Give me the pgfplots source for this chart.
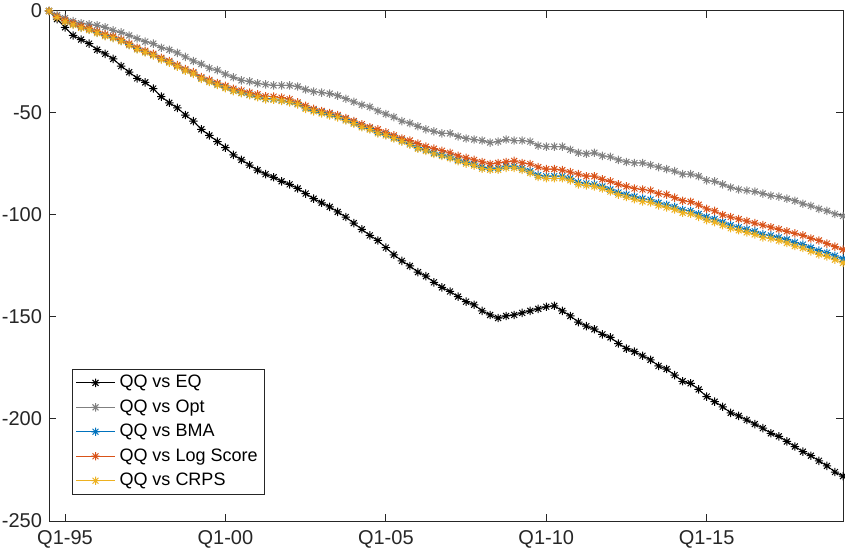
\documentclass[border=0pt]{standalone}
\usepackage{fontspec}
\setmainfont{Liberation Sans}
\usepackage{pgfplots}
\usepackage{pgfplotstable}
\pgfplotsset{compat=1.18}

\definecolor{axgray}{rgb}{0.15,0.15,0.15}
\definecolor{mgray}{rgb}{0.5,0.5,0.5}
\definecolor{mblue}{rgb}{0,0.447,0.741}
\definecolor{morange}{rgb}{0.85,0.325,0.098}
\definecolor{myellow}{rgb}{0.929,0.694,0.125}

% eight-armed asterisk marker
\pgfdeclareplotmark{mstar}{%
  \pgfpathmoveto{\pgfpoint{-\pgfplotmarksize}{0pt}}\pgfpathlineto{\pgfpoint{\pgfplotmarksize}{0pt}}%
  \pgfpathmoveto{\pgfpoint{0pt}{-\pgfplotmarksize}}\pgfpathlineto{\pgfpoint{0pt}{\pgfplotmarksize}}%
  \pgfpathmoveto{\pgfpoint{-0.7071\pgfplotmarksize}{-0.7071\pgfplotmarksize}}\pgfpathlineto{\pgfpoint{0.7071\pgfplotmarksize}{0.7071\pgfplotmarksize}}%
  \pgfpathmoveto{\pgfpoint{-0.7071\pgfplotmarksize}{0.7071\pgfplotmarksize}}\pgfpathlineto{\pgfpoint{0.7071\pgfplotmarksize}{-0.7071\pgfplotmarksize}}%
  \pgfusepathqstroke}

% t = quarters since Q1-1995
\pgfplotstableread{
t eq opt bma log crps
-2 0 0 0 0 0
-1 -4 -2 -3 -2.8 -3.2
0 -8 -3.5 -5 -4.6 -5.3
1 -12 -5 -6.5 -6 -6.8
2 -14 -6 -8 -7.5 -8.3
3 -16 -6.5 -9 -8.5 -9.3
4 -19 -7 -10.5 -10 -10.8
5 -21 -8 -12 -11.5 -12.3
6 -23.5 -9.5 -13 -12.5 -13.3
7 -27 -10.5 -14.5 -14 -14.8
8 -30 -12 -16.5 -16 -16.8
9 -33 -13.5 -18.5 -18 -18.8
10 -35 -15 -20 -19.5 -20.3
11 -38 -16 -21.5 -21 -21.8
12 -42 -18 -23.5 -23 -23.8
13 -45 -19 -25 -24.5 -25.3
14 -47.5 -20.5 -27 -26.5 -27.3
15 -51 -22.5 -29 -28.5 -29.3
16 -54 -24.5 -30.5 -30 -30.8
17 -58 -26 -33 -32.4 -33.3
18 -61 -28 -34.5 -33.8 -34.8
19 -64 -29 -36 -35.3 -36.3
20 -67 -31 -37.5 -36.7 -37.8
21 -70.5 -32.5 -39 -38.1 -39.3
22 -73 -34 -40 -39 -40.3
23 -75.5 -34.5 -41 -40 -41.3
24 -78 -35.5 -42 -40.9 -42.3
25 -80 -36 -43 -41.8 -43.3
26 -81.5 -36.5 -43.2 -42 -43.5
27 -83.5 -36.5 -43.8 -42.5 -44.1
28 -85 -36.5 -44.5 -43.2 -44.8
29 -87 -37 -45.5 -44.8 -45.8
30 -89.5 -38.5 -47.5 -46.5 -48
31 -92 -39.5 -48.7 -48 -49.2
32 -94 -40 -49.7 -49 -50.2
33 -96 -40.5 -50.7 -50 -51.2
34 -98.5 -41.5 -51.7 -51 -52.2
35 -101 -43 -53.2 -52.5 -53.7
36 -104 -44.5 -54.7 -54 -55.2
37 -107 -46 -56.5 -55.5 -57
38 -110 -47 -57.6 -57 -58.1
39 -112.5 -49 -59.5 -58 -60
40 -116 -50.5 -60.5 -59.5 -61
41 -119.5 -52 -62 -61 -62.5
42 -122.5 -54 -63.5 -62.5 -64
43 -125 -55 -65 -63.5 -65.5
44 -128 -56.5 -67 -65 -67.5
45 -130 -58 -68 -66.5 -68.6
46 -133 -59 -69.5 -67.5 -70.1
47 -135.5 -60 -70.5 -68.5 -71.1
48 -137.5 -60 -71.5 -69.5 -72.1
49 -140 -61.5 -73 -71 -73.6
50 -142.5 -62.5 -74 -72 -74.8
51 -144 -63 -75 -73 -75.8
52 -147 -63.5 -76.5 -74 -77.3
53 -149 -64.5 -77 -75 -77.8
54 -150.5 -64 -77 -74.5 -77.8
55 -149.5 -63 -76 -74 -76.9
56 -149 -63.5 -76 -73.5 -76.9
57 -148 -63.5 -77 -74.5 -77.9
58 -147 -64 -78.5 -75 -79.4
59 -146 -66 -80.5 -76.5 -81.4
60 -145 -66.5 -81 -77.5 -82
61 -144.5 -66.5 -81 -77.5 -82
62 -147 -66.5 -81 -78 -82
63 -149.5 -68 -82 -79 -83
64 -152.5 -69.5 -84 -80 -85
65 -154.5 -70 -84.5 -81 -85.5
66 -156 -69.5 -85 -81 -86
67 -158.5 -71 -86 -82.5 -87
68 -160 -71.5 -87.5 -83.5 -88.5
69 -163 -73 -89 -85 -90
70 -165.5 -74 -90 -86 -91.2
71 -167 -74.5 -91 -87 -92.3
72 -169 -74.5 -92 -87.5 -93.3
73 -171 -75.5 -92.5 -88 -93.8
74 -174 -76.5 -94 -89.5 -95.3
75 -175.5 -77.5 -95 -90 -96.3
76 -178.5 -78.5 -96 -91.5 -97.3
77 -181.5 -80 -97.5 -93 -98.9
78 -182.5 -80 -98 -93.5 -99.4
79 -185.5 -81 -99.5 -95 -100.9
80 -189 -83 -101 -97 -102.5
81 -191.5 -83.5 -102 -98 -103.5
82 -194 -85 -103.5 -100 -105
83 -197 -86.5 -105 -101 -106.5
84 -198.5 -87.5 -106 -102 -107.5
85 -200.5 -88 -107 -103 -108.5
86 -202.5 -88.5 -108 -104 -109.5
87 -204.5 -89.5 -109.5 -105 -111
88 -207 -90.5 -110 -106 -111.5
89 -208.5 -91 -111 -107 -112.5
90 -211 -92 -112 -108 -113.7
91 -213.5 -93 -113.5 -109 -115.2
92 -216 -94.5 -114.5 -110 -116.2
93 -218 -95.5 -116 -111.5 -117.8
94 -220.5 -97 -117.5 -112.5 -119.3
95 -223 -98 -118.5 -114 -120.3
96 -226 -99.5 -120 -115.5 -121.9
97 -228 -100.5 -121.5 -117 -123.5
}\data

\begin{document}
\begin{tikzpicture}
\begin{axis}[
  name=ax,
  scale only axis,
  width=397pt, height=255pt,
  xmin=-2, xmax=97,
  ymin=-250, ymax=0,
  xtick={0,20,40,60,80},
  xticklabels={Q1-95,Q1-00,Q1-05,Q1-10,Q1-15},
  ytick={-250,-200,-150,-100,-50,0},
  tick align=inside,
  tick pos=both,
  major tick length=3.5pt,
  axis line style={draw=axgray, line width=0.5pt},
  tick style={draw=axgray, line width=0.5pt},
  ticklabel style={font=\fontsize{10}{12}\selectfont, text=axgray},
  xticklabel style={yshift=-1pt},
  /pgf/number format/assume math mode=true,
  every axis plot/.append style={line width=0.5pt, mark=mstar, mark size=2.1pt, mark options={solid}},
  legend cell align=left,
  legend style={at={(0,0)}, anchor=south west, xshift=11.5pt, yshift=13pt,
    draw=axgray, line width=0.5pt, font=\fontsize{9}{10.8}\selectfont,
    inner xsep=1.5pt, inner ysep=1pt, row sep=0.45pt},
  legend image code/.code={\draw[mark repeat=2,mark phase=2] plot coordinates {(0pt,0pt)(9.75pt,0pt)(19.5pt,0pt)};},
]
\addplot[color=black] table[x=t, y=eq] {\data};
\addlegendentry{QQ vs EQ}
\addplot[color=mgray] table[x=t, y=opt] {\data};
\addlegendentry{QQ vs Opt}
\addplot[color=mblue] table[x=t, y=bma] {\data};
\addlegendentry{QQ vs BMA}
\addplot[color=morange] table[x=t, y=log] {\data};
\addlegendentry{QQ vs Log Score}
\addplot[color=myellow] table[x=t, y=crps] {\data};
\addlegendentry{QQ vs CRPS}
\end{axis}
\pgfresetboundingbox
\useasboundingbox ([xshift=-24.5pt,yshift=-16pt]ax.south west) rectangle ([xshift=1pt,yshift=5.5pt]ax.north east);
\end{tikzpicture}
\end{document}
